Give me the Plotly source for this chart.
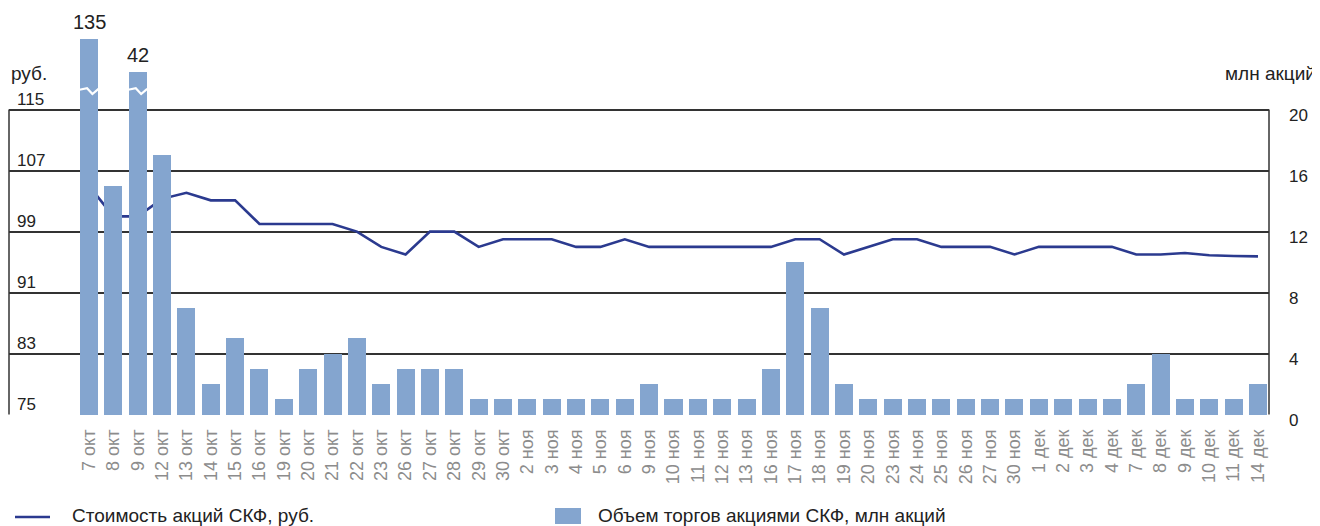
import plotly.graph_objects as go

# ---------------- data ----------------
dates = ["7 окт", "8 окт", "9 окт", "12 окт", "13 окт", "14 окт", "15 окт", "16 окт",
         "19 окт", "20 окт", "21 окт", "22 окт", "23 окт", "26 окт", "27 окт", "28 окт",
         "29 окт", "30 окт", "2 ноя", "3 ноя", "4 ноя", "5 ноя", "6 ноя", "9 ноя",
         "10 ноя", "11 ноя", "12 ноя", "13 ноя", "16 ноя", "17 ноя", "18 ноя", "19 ноя",
         "20 ноя", "23 ноя", "24 ноя", "25 ноя", "26 ноя", "27 ноя", "30 ноя", "1 дек",
         "2 дек", "3 дек", "4 дек", "7 дек", "8 дек", "9 дек", "10 дек", "11 дек", "14 дек"]

price = [105.0, 101.0, 101.0, 103.3, 104.1, 103.1, 103.1, 100.0, 100.0, 100.0,
         100.0, 99.0, 97.0, 96.0, 99.0, 99.0, 97.0, 98.0, 98.0, 98.0,
         97.0, 97.0, 98.0, 97.0, 97.0, 97.0, 97.0, 97.0, 97.0, 98.0,
         98.0, 96.0, 97.0, 98.0, 98.0, 97.0, 97.0, 97.0, 96.0, 97.0,
         97.0, 97.0, 97.0, 96.0, 96.0, 96.2, 95.9, 95.8, 95.75]

volume = [135, 15, 42, 17, 7, 2, 5, 3, 1, 3,
          4, 5, 2, 3, 3, 3, 1, 1, 1, 1,
          1, 1, 1, 2, 1, 1, 1, 1, 3, 10,
          7, 2, 1, 1, 1, 1, 1, 1, 1, 1,
          1, 1, 1, 2, 4, 1, 1, 1, 2]

price_ticks = [75, 83, 91, 99, 107, 115]
volume_ticks = [0, 4, 8, 12, 16, 20]

# ---------------- styling / layout ----------------
OFF = 8                           # page body margin of the html page
W, H = 1320 - OFF, 526 - OFF
PLOT_L, PLOT_R, PLOT_T, PLOT_B = 9, 1269, 30, 415   # page pixels of the plot area
ML, MR, MT, MB = PLOT_L - OFF, W - (PLOT_R - OFF), PLOT_T - OFF, H - (PLOT_B - OFF)
PW, PH = W - ML - MR, H - MT - MB
GRID_H = PLOT_B - 110             # pixel height of the gridded 75..115 box
K = PH / GRID_H                   # head-room above the box (for the broken bars)
VOL_MAX = volume_ticks[-1]
BREAK_AT = 21.3                   # y2 level where broken bars get the zigzag
EPS = 0.05

BAR_COLOR = "#84a5cf"
LINE_COLOR = "#2b3a8f"
GRID_COLOR = "#333333"
TEXT = "#222222"
FONT = "Liberation Sans, Arial, sans-serif"

x_idx = list(range(len(dates)))


def shown(v):
    """Bars above the axis maximum are drawn with a compressed (broken) height."""
    if v <= VOL_MAX:
        return v
    return VOL_MAX + 0.76 * (v - VOL_MAX) ** 0.38


vol_shown = [shown(v) for v in volume]


def px_x(p):      # page pixel -> paper x
    return (p - PLOT_L) / PW


def px_y(p):      # page pixel -> paper y
    return (PLOT_B - p) / PH


fig = go.Figure()

fig.add_trace(go.Scatter(
    x=x_idx, y=price, mode="lines", yaxis="y",
    line=dict(color=LINE_COLOR, width=2.6), name="Стоимость акций СКФ, руб.",
    showlegend=False, hoverinfo="skip"))

fig.add_trace(go.Bar(
    x=x_idx, y=vol_shown, yaxis="y2", width=0.74,
    marker=dict(color=BAR_COLOR, line=dict(width=0)),
    name="Объем торгов акциями СКФ, млн акций", showlegend=False,
    customdata=volume, hovertemplate="%{customdata}<extra></extra>"))

annotations = []
for i, v in enumerate(volume):
    if v > VOL_MAX:
        fig.add_trace(go.Scatter(
            x=[i - 0.39, i - 0.08, i + 0.14, i + 0.39],
            y=[BREAK_AT, BREAK_AT + 0.1, BREAK_AT - 0.28, BREAK_AT + 0.06],
            yaxis="y2", mode="lines", line=dict(color="white", width=2.2),
            showlegend=False, hoverinfo="skip"))
        annotations.append(dict(
            x=i, y=vol_shown[i], xref="x", yref="y2", text=str(v),
            showarrow=False, yanchor="bottom", yshift=4,
            font=dict(size=20, color=TEXT, family=FONT)))

# unit captions
annotations.append(dict(x=px_x(9), y=px_y(73), xref="paper", yref="paper",
                        text="руб.", showarrow=False, xanchor="left", yanchor="middle",
                        font=dict(size=19, color=TEXT, family=FONT)))
annotations.append(dict(x=px_x(1318), y=px_y(73), xref="paper", yref="paper",
                        text="млн акций", showarrow=False, xanchor="right", yanchor="middle",
                        font=dict(size=19, color=TEXT, family=FONT)))

# custom legend
annotations.append(dict(x=px_x(70), y=px_y(515), xref="paper", yref="paper",
                        text="Стоимость акций СКФ, руб.", showarrow=False,
                        xanchor="left", yanchor="middle",
                        font=dict(size=19, color=TEXT, family=FONT)))
annotations.append(dict(x=px_x(596), y=px_y(515), xref="paper", yref="paper",
                        text="Объем торгов акциями СКФ, млн акций", showarrow=False,
                        xanchor="left", yanchor="middle",
                        font=dict(size=19, color=TEXT, family=FONT)))

shapes = [
    dict(type="line", xref="paper", yref="y", x0=0, x1=0,
         y0=price_ticks[0], y1=price_ticks[-1], line=dict(color=GRID_COLOR, width=1.5), layer="below"),
    dict(type="line", xref="paper", yref="y", x0=1, x1=1,
         y0=price_ticks[0], y1=price_ticks[-1], line=dict(color=GRID_COLOR, width=1.5), layer="below"),
    dict(type="line", xref="paper", yref="paper", x0=px_x(15), x1=px_x(50),
         y0=px_y(517), y1=px_y(517), line=dict(color=LINE_COLOR, width=2.6)),
    dict(type="rect", xref="paper", yref="paper", x0=px_x(555), x1=px_x(581),
         y0=px_y(524), y1=px_y(508), fillcolor=BAR_COLOR, line=dict(width=0)),
]

fig.update_layout(
    width=W, height=H,
    margin=dict(l=ML, r=MR, t=MT, b=MB, pad=0),
    paper_bgcolor="white", plot_bgcolor="white",
    font=dict(family=FONT, color=TEXT),
    bargap=0,
    xaxis=dict(
        range=[-(89 - PLOT_L) / ((1258 - 89) / (len(dates) - 1)),
               len(dates) - 1 + (PLOT_R - 1258) / ((1258 - 89) / (len(dates) - 1))],
        tickmode="array", tickvals=x_idx, ticktext=dates, tickangle=-90,
        tickfont=dict(size=18, color="#8c8c8c", family=FONT),
        ticklabelstandoff=10,
        showgrid=False, zeroline=False, showline=False, ticks=""),
    yaxis=dict(
        range=[price_ticks[0] - EPS,
               price_ticks[0] + (price_ticks[-1] - price_ticks[0]) * K - EPS],
        tickmode="array", tickvals=price_ticks,
        showgrid=True, gridcolor=GRID_COLOR, gridwidth=1.5,
        zeroline=False, showline=False, ticks="",
        ticklabelposition="inside", ticklabelstandoff=5, ticklabelshift=-11,
        tickfont=dict(size=17, color=TEXT, family=FONT)),
    yaxis2=dict(
        overlaying="y", side="right",
        range=[-EPS * VOL_MAX / (price_ticks[-1] - price_ticks[0]),
               VOL_MAX * K - EPS * VOL_MAX / (price_ticks[-1] - price_ticks[0])],
        tickmode="array", tickvals=volume_ticks,
        showgrid=False, zeroline=False, showline=False, ticks="",
        ticklabelstandoff=19, ticklabelshift=5,
        tickfont=dict(size=17, color=TEXT, family=FONT)),
    annotations=annotations,
    shapes=shapes,
    showlegend=False,
)

fig.write_html("out.html")
